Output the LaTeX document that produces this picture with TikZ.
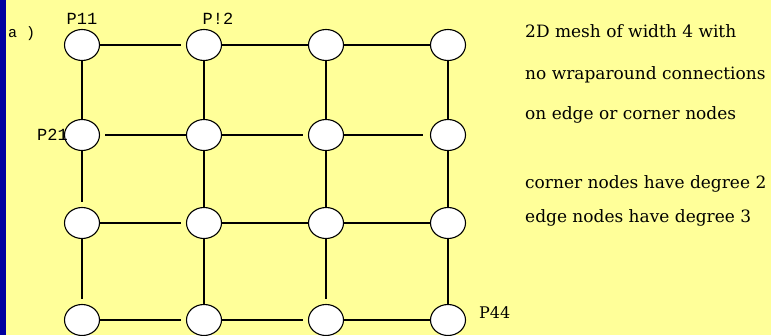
\documentclass[tikz,border=0pt]{standalone}
\usepackage{fontspec}
\usetikzlibrary{shapes.geometric}
\setmainfont{DejaVu Serif}
\newfontfamily\labfont{Liberation Mono}
\definecolor{bgyellow}{HTML}{FFFF99}
\definecolor{stripblue}{HTML}{0000A0}
\begin{document}
\begin{tikzpicture}[x=1pt,y=-1pt,
  pnode/.style={draw=black,line width=1.1pt,fill=white,ellipse,minimum width=35pt,minimum height=31pt,inner sep=0pt},
  link/.style={line width=1.3pt},
  gapend/.style={shorten >=5pt},
  gapstart/.style={shorten <=5pt},
  lab/.style={font=\labfont\fontsize{17}{17}\selectfont,inner sep=0pt},
  note/.style={font=\fontsize{17}{18}\selectfont,anchor=base west,inner sep=0pt}]
\useasboundingbox (0,0) rectangle (771,335);
\fill[bgyellow] (0,0) rectangle (771,335);
\fill[stripblue] (0,0) rectangle (6,335);
% nodes
\foreach \r/\y in {1/45,2/135,3/223,4/320}{
  \foreach \c/\x in {1/82,2/204,3/326,4/448}{
    \node[pnode] (n\r\c) at (\x,\y) {};
  }
}
% horizontal links
\draw[link,gapend] (n11) -- (n12);
\draw[link] (n12) -- (n13);
\draw[link] (n13) -- (n14);
\draw[link,gapstart] (n21) -- (n22);
\draw[link,gapend] (n22) -- (n23);
\draw[link,shorten >=7pt] (n23) -- (n24);
\draw[link,gapend] (n31) -- (n32);
\draw[link] (n32) -- (n33);
\draw[link] (n33) -- (n34);
\draw[link,gapend] (n41) -- (n42);
\draw[link,gapend] (n42) -- (n43);
\draw[link] (n43) -- (n44);
% vertical links
\draw[link] (n11) -- (n21);
\draw[link,gapend] (n21) -- (n31);
\draw[link,gapend] (n31) -- (n41);
\draw[link] (n12) -- (n22);
\draw[link] (n22) -- (n32);
\draw[link] (n32) -- (n42);
\draw[link] (n13) -- (n23);
\draw[link] (n23) -- (n33);
\draw[link,gapend] (n33) -- (n43);
\draw[link] (n14) -- (n24);
\draw[link] (n24) -- (n34);
\draw[link] (n34) -- (n44);
% labels
\node[lab,font=\labfont\fontsize{15}{15}\selectfont,anchor=base west] (la) at (8,37) {a )};
\node[lab,anchor=base] (l11) at (82,24) {P11};
\node[lab,anchor=base] (l12) at (218,24) {P!2};
\node[lab,anchor=base east] (l21) at (68,140) {P21};
\node[note,font=\fontsize{16}{16}\selectfont] (l44) at (479,318) {P44};
% notes
\node[note] (t1) at (525,37) {2D mesh of width 4 with};
\node[note] (t2) at (525,79) {no wraparound connections};
\node[note] (t3) at (525,119) {on edge or corner nodes};
\node[note] (t4) at (525,188) {corner nodes have degree 2};
\node[note] (t5) at (525,222) {edge nodes have degree 3};
\end{tikzpicture}
\end{document}
